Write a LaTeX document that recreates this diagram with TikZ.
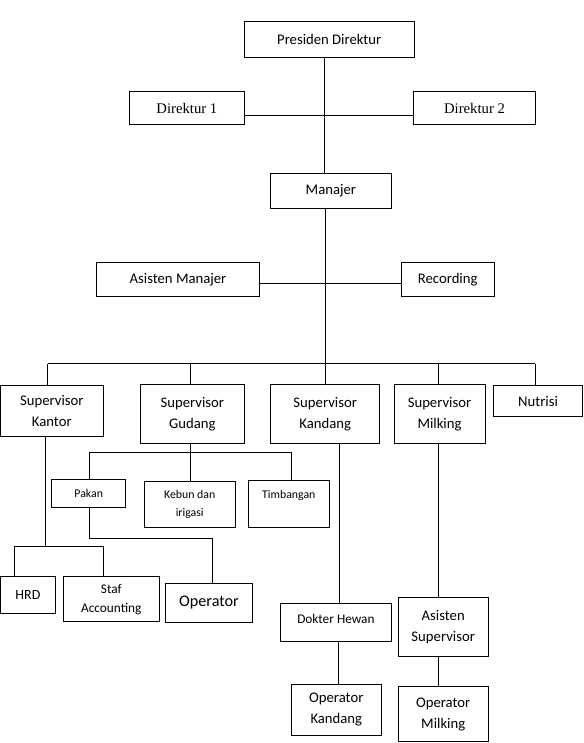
\documentclass[tikz,border=0pt]{standalone}
\usepackage{fontspec}
\setmainfont{Carlito}
\newfontfamily\tnr{Liberation Serif}
\begin{document}
\begin{tikzpicture}[x=1pt,y=-1pt,
  box/.style={draw,line width=1pt,inner sep=0pt,align=center,font=\fontsize{14.7}{21}\selectfont},
  small/.style={font=\fontsize{11.8}{17.3}\selectfont},
  mid/.style={font=\fontsize{13.3}{19}\selectfont},
  conn/.style={line width=1pt}]
\useasboundingbox (0,0) rectangle (583,743);
% nodes
\node[box,minimum width=169.7,minimum height=36] (pd) at (329.2,39.7) {Presiden Direktur};
\node[box,minimum width=115.7,minimum height=33,font=\tnr\fontsize{14.7}{18}\selectfont] (d1) at (186.9,108.2) {Direktur 1};
\node[box,minimum width=121.6,minimum height=33,font=\tnr\fontsize{14.7}{18}\selectfont] (d2) at (474.5,108.2) {Direktur 2};
\node[box,minimum width=120.3,minimum height=35] (man) at (330.9,191.2) {Manajer};
\node[box,minimum width=162.6,minimum height=33.6] (am) at (178,279.5) {Asisten Manajer};
\node[box,minimum width=92.7,minimum height=34] (rec) at (447.7,279.5) {Recording};
\node[box,minimum width=102.5,minimum height=51] (sk) at (51.8,411.2) {Supervisor\\Kantor};
\node[box,minimum width=104.7,minimum height=58.6] (sg) at (192.4,414) {Supervisor\\Gudang};
\node[box,minimum width=109.1,minimum height=58.6] (skd) at (325.2,414) {Supervisor\\Kandang};
\node[box,minimum width=91,minimum height=58.6] (sm) at (439.5,414) {Supervisor\\Milking};
\node[box,minimum width=88.8,minimum height=30.6] (nut) at (538.1,401) {Nutrisi};
\node[box,small,minimum width=74,minimum height=27.7] (pak) at (88.7,493.2) {Pakan};
\node[box,small,minimum width=91.3,minimum height=46.7] (keb) at (189.7,504.4) {Kebun dan\\irigasi};
\node[box,small,minimum width=81,minimum height=47.3] (tim) at (288.8,503.7) {\raisebox{8pt}[\height][\depth]{Timbangan}};
\node[box,minimum width=54.8,minimum height=36.6,font=\fontsize{14}{19}\selectfont] (hrd) at (27.9,595) {HRD};
\node[box,mid,minimum width=96,minimum height=45.3] (staf) at (111.3,599.3) {Staf\\Accounting};
\node[box,minimum width=86.6,minimum height=38.7,font=\fontsize{16.2}{20}\selectfont] (op) at (209,602.7) {Operator};
\node[box,mid,minimum width=110.3,minimum height=38.3] (dh) at (335.9,622.2) {\raisebox{3pt}[\height][\depth]{Dokter Hewan}};
\node[box,minimum width=89.7,minimum height=58.3] (as) at (443.2,627) {Asisten\\Supervisor};
\node[box,minimum width=90,minimum height=51] (ok) at (336.3,709.8) {Operator\\Kandang};
\node[box,minimum width=89.7,minimum height=55.8] (om) at (443.2,714) {Operator\\Milking};
% junction coordinates
\coordinate (j1) at (324,115.3);
\coordinate (j2) at (325.3,283.7);
\coordinate (bus) at (325.3,363.5);
\coordinate (bl) at (47.7,363.5);
\coordinate (b2) at (190.3,363.5);
\coordinate (b3) at (325,363.5);
\coordinate (b4) at (438.3,363.5);
\coordinate (br) at (535,363.5);
\coordinate (g0) at (190.3,452);
\coordinate (gl) at (89.3,452);
\coordinate (gr) at (291,452);
\coordinate (p1) at (89.3,538);
\coordinate (p2) at (212,538);
\coordinate (k1) at (45,546);
\coordinate (kl) at (14,546);
\coordinate (kr) at (103.7,546);
\coordinate (kd) at (339.5,500);
\coordinate (kd2) at (338.3,660);
\coordinate (mk) at (438.3,500);
% connectors
\draw[conn] (pd.south -| j1) -- (man.north -| j1);
\draw[conn] (d1.east |- j1) -- (d2.west |- j1);
\draw[conn] (man.south -| bus) -- (bus);
\draw[conn] (am.east |- j2) -- (rec.west |- j2);
\draw[conn] (bl) -- (br);
\draw[conn] (bl) -- (sk.north -| bl);
\draw[conn] (b2) -- (sg.north -| b2);
\draw[conn] (b3) -- (skd.north -| b3);
\draw[conn] (b4) -- (sm.north -| b4);
\draw[conn] (br) -- (nut.north -| br);
\draw[conn] (sg.south -| g0) -- (keb.north -| g0);
\draw[conn] (pak.north -| gl) -- (gl) -- (gr) -- (tim.north -| gr);
\draw[conn] (pak.south -| p1) -- (p1) -- (p2) -- (op.north -| p2);
\draw[conn] (sk.south -| k1) -- (k1);
\draw[conn] (hrd.north -| kl) -- (kl) -- (kr) -- (staf.north -| kr);
\draw[conn] (skd.south -| kd) -- (dh.north -| kd);
\draw[conn] (dh.south -| kd2) -- (ok.north -| kd2);
\draw[conn] (sm.south -| mk) -- (as.north -| mk);
\draw[conn] (as.south -| mk) -- (om.north -| mk);
\end{tikzpicture}
\end{document}
